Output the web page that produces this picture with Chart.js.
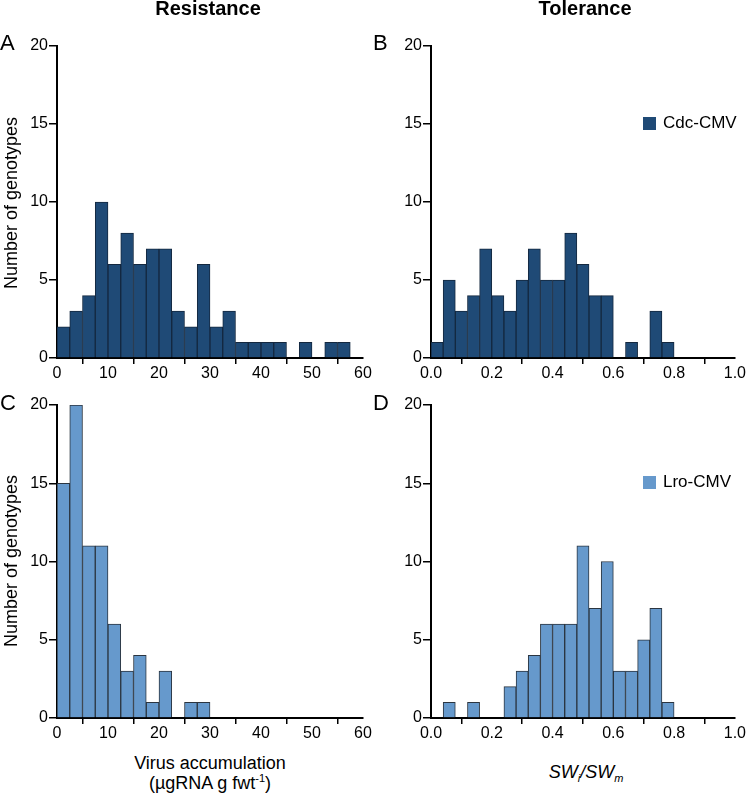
<!DOCTYPE html>
<html>
<head>
<meta charset="utf-8">
<script src="https://cdn.jsdelivr.net/npm/chart.js@4.4.0/dist/chart.umd.min.js"></script>
<style>
  html, body { margin:0; padding:0; background:#fff; }
  body { width:746px; height:794px; position:relative; overflow:hidden; font-family:"Liberation Sans", Arial, sans-serif; color:#000; }
  canvas { position:absolute; }
  .t { position:absolute; white-space:nowrap; }
  .title { font-weight:bold; font-size:20px; transform:translateX(-50%); }
  .letter { font-size:22px; }
  .ytitle { font-size:18px; transform-origin:center; transform:translate(-50%,-50%) rotate(-90deg); }
  .xtitle { font-size:18px; transform:translate(-50%,-50%); text-align:center; }
  .leg { font-size:17px; display:flex; align-items:center; }
  .sw { width:13px; height:13px; margin-right:7px; }
</style>
</head>
<body>
<canvas id="cA" width="373" height="380" style="left:0;top:0"></canvas>
<canvas id="cB" width="373" height="380" style="left:373px;top:0"></canvas>
<canvas id="cC" width="373" height="360" style="left:0;top:380px"></canvas>
<canvas id="cD" width="373" height="360" style="left:373px;top:380px"></canvas>

<div class="t title" style="left:208px;top:-3px">Resistance</div>
<div class="t title" style="left:585px;top:-3px">Tolerance</div>
<div class="t letter" style="left:0px;top:30px">A</div>
<div class="t letter" style="left:373px;top:30px">B</div>
<div class="t letter" style="left:0px;top:390px">C</div>
<div class="t letter" style="left:373px;top:390px">D</div>
<div class="t ytitle" style="left:11px;top:203px">Number of genotypes</div>
<div class="t ytitle" style="left:11px;top:561px">Number of genotypes</div>
<div class="t xtitle" style="left:210px;top:763px">Virus accumulation</div>
<div class="t xtitle" style="left:210px;top:783px">(µgRNA g fwt<sup style="font-size:11px">-1</sup>)</div>
<div class="t xtitle" style="left:586px;top:773px;font-style:italic">SW<sub style="font-size:11px">i</sub>/SW<sub style="font-size:11px">m</sub></div>
<div class="t leg" style="left:643px;top:113px"><div class="sw" style="background:#1F4A76"></div>Cdc-CMV</div>
<div class="t leg" style="left:643px;top:472px"><div class="sw" style="background:#6699CC"></div>Lro-CMV</div>

<script>
// Bin lower edges
const resistanceEdges = [0,2.5,5,7.5,10,12.5,15,17.5,20,22.5,25,27.5,30,32.5,35,37.5,40,42.5,45,47.5,50,52.5,55,57.5];
const resistanceBinWidth = 2.5;
const toleranceEdges = [0,0.04,0.08,0.12,0.16,0.2,0.24,0.28,0.32,0.36,0.4,0.44,0.48,0.52,0.56,0.6,0.64,0.68,0.72,0.76,0.8,0.84,0.88,0.92,0.96];
const toleranceBinWidth = 0.04;

// Counts (Number of genotypes)
const cdcResistance = [2,3,4,10,6,8,6,7,7,3,2,6,2,3,1,1,1,1,0,1,0,1,1,0];
const cdcTolerance  = [1,5,3,4,7,4,3,5,7,5,5,8,6,4,4,0,1,0,3,1,0,0,0,0,0];
const lroResistance = [15,20,11,11,6,3,4,1,3,0,1,1,0,0,0,0,0,0,0,0,0,0,0,0];
const lroTolerance  = [0,1,0,1,0,0,2,3,4,6,6,6,11,7,10,3,3,5,7,1,0,0,0,0,0];

// Axis ticks
const yTicks = [0,5,10,15,20];
const resistanceXTicks = [0,10,20,30,40,50,60];
const toleranceXTicks = [0,0.2,0.4,0.6,0.8,1.0];

const dark = '#1F4A76', light = '#6699CC';
const FONT = {family:'"Liberation Sans", Arial, sans-serif', size:16};

function makeChart(id, edges, bw, counts, color, border, xTicks, xMax, dec, padTop, yWidth) {
  const data = edges.map((e,i)=>({x: e + bw/2, y: counts[i]}));
  new Chart(document.getElementById(id), {
    type: 'bar',
    data: { datasets: [{ data, backgroundColor: color, borderColor: border, borderWidth: 1,
      barPercentage: 1, categoryPercentage: 1 }] },
    options: {
      responsive: false, animation: false,
      layout: { padding: { top: padTop, right: 10, left: 0, bottom: 0 } },
      plugins: { legend: {display:false}, tooltip: {enabled:false} },
      scales: {
        x: {
          type: 'linear', min: 0, max: xMax, offset: false,
          afterBuildTicks: s => { s.ticks = xTicks.map(v=>({value:v})); },
          afterFit: s => { s.height = 22; },
          ticks: { color:'#000', font: FONT, padding: 0, maxRotation: 0, autoSkip:false,
                   callback: v => dec ? Number(v).toFixed(1) : String(v) },
          grid: { display: true, drawOnChartArea: false, drawTicks: true, tickLength: 6, color:'#000', lineWidth: 1.5 },
          border: { display: true, color: '#000', width: 2 }
        },
        y: {
          min: 0, max: 20,
          afterBuildTicks: s => { s.ticks = yTicks.map(v=>({value:v})); },
          afterFit: s => { s.width = yWidth; },
          ticks: { color:'#000', font: FONT, padding: 1 },
          grid: { display: true, drawOnChartArea: false, drawTicks: true, tickLength: 8, color:'#000', lineWidth: 1.5 },
          border: { display: true, color: '#000', width: 2 }
        }
      }
    }
  });
}

makeChart('cA', resistanceEdges, resistanceBinWidth, cdcResistance, dark, '#14283f', resistanceXTicks, 60, false, 46, 57);
makeChart('cB', toleranceEdges, toleranceBinWidth, cdcTolerance, dark, '#14283f', toleranceXTicks, 1, true, 46, 58);
makeChart('cC', resistanceEdges, resistanceBinWidth, lroResistance, light, '#2b3540', resistanceXTicks, 60, false, 25, 57);
makeChart('cD', toleranceEdges, toleranceBinWidth, lroTolerance, light, '#2b3540', toleranceXTicks, 1, true, 25, 58);
</script>
</body>
</html>
